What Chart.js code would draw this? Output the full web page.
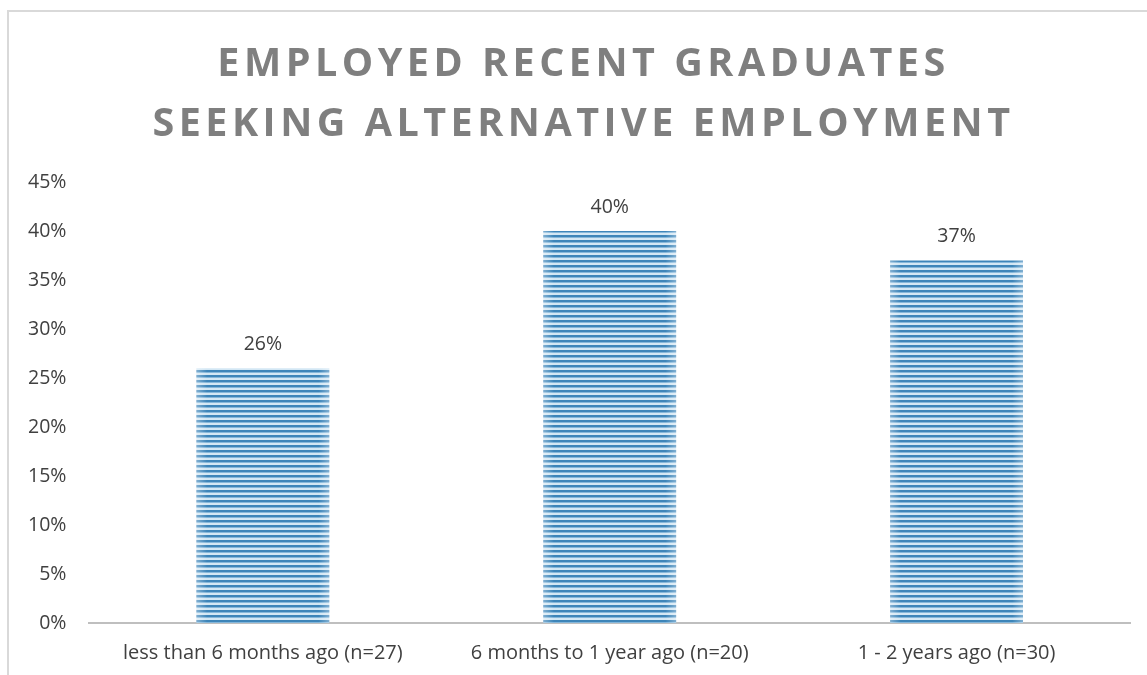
<!DOCTYPE html>
<html>
<head>
<meta charset="utf-8">
<script src="https://cdn.jsdelivr.net/npm/chart.js@4"></script>
<style>
  html, body { margin: 0; padding: 0; background: #fff; }
  #wrap { position: relative; width: 1147px; height: 675px; overflow: hidden; }
  #frame { position: absolute; left: 7px; top: 10px; width: 1200px; height: 720px; border: 2px solid #d9d9d9; box-sizing: border-box; }
  #title {
    position: absolute; left: 7px; width: 1153px; top: 31px; text-align: center;
    font-family: "Open Sans", sans-serif; font-weight: bold; font-size: 39.5px; line-height: 60px;
    letter-spacing: 4.5px; color: #7f7f7f;
  }
  #grafico { position: absolute; left: 0; top: 0; }
</style>
</head>
<body>
<div id="wrap">
  <div id="frame"></div>
  <canvas id="grafico" width="1147" height="694"></canvas>
  <div id="title">EMPLOYED RECENT GRADUATES<br>SEEKING ALTERNATIVE EMPLOYMENT</div>
</div>
<script>
// Dados do gráfico
const categorias = ['less than 6 months ago (n=27)', '6 months to 1 year ago (n=20)', '1 - 2 years ago (n=30)'];
const valores = [26, 40, 37];
const ticksY = [0, 5, 10, 15, 20, 25, 30, 35, 40, 45];

// Padrão listrado das barras
function criaListras(){
    const c = document.createElement('canvas');
    c.width = 4; c.height = 5;
    const g = c.getContext('2d');
    g.fillStyle = '#d3e7f4'; g.fillRect(0, 0, 4, 5);
    g.fillStyle = '#3d85b9'; g.fillRect(0, 0, 4, 2);
    g.fillStyle = '#85b7da'; g.fillRect(0, 2, 4, 1);
    return g.createPattern(c, 'repeat');
}

// Brilho nas bordas e rótulos de valor
const efeitoBarras = {
    id: 'efeitoBarras',
    afterDatasetsDraw(chart){
        const ctx = chart.ctx;
        const meta = chart.getDatasetMeta(0);
        meta.data.forEach((bar, i) => {
            const left = bar.x - bar.width / 2;
            const grad = ctx.createLinearGradient(left, 0, left + bar.width, 0);
            grad.addColorStop(0, 'rgba(255,255,255,0.35)');
            grad.addColorStop(0.08, 'rgba(255,255,255,0)');
            grad.addColorStop(0.92, 'rgba(255,255,255,0)');
            grad.addColorStop(1, 'rgba(255,255,255,0.35)');
            ctx.save();
            ctx.fillStyle = grad;
            ctx.fillRect(left, bar.y, bar.width, bar.base - bar.y);
            ctx.fillStyle = '#404040';
            ctx.font = '19.5px "Open Sans", sans-serif';
            ctx.textAlign = 'center';
            ctx.textBaseline = 'alphabetic';
            ctx.fillText(valores[i] + '%', bar.x, bar.y - 18);
            ctx.restore();
        });
    }
};

const ctx = document.getElementById('grafico');
const grafico = new Chart(ctx, {
    type: 'bar',
    data: {
        labels: categorias,
        datasets: [{
            data: valores,
            backgroundColor: criaListras(),
            borderWidth: 0,
            barPercentage: 0.383,
            categoryPercentage: 1
        }]
    },
    options: {
        responsive: false,
        animation: false,
        layout: { padding: { top: 182, left: 5, right: 17, bottom: 11 } },
        plugins: { legend: { display: false }, tooltip: { enabled: false } },
        scales: {
            x: {
                grid: { display: false, drawTicks: false },
                border: { color: '#bfbfbf', width: 2 },
                ticks: { color: '#404040', font: { family: 'Open Sans', size: 20 }, padding: 18 }
            },
            y: {
                min: 0, max: 45,
                grid: { display: false, drawTicks: false },
                border: { display: false },
                afterBuildTicks: axis => { axis.ticks = ticksY.map(v => ({ value: v })); },
                ticks: { color: '#404040', font: { family: 'Open Sans', size: 19.5 }, padding: 23,
                    callback: v => v + '%' }
            }
        }
    },
    plugins: [efeitoBarras]
});
</script>
</body>
</html>
